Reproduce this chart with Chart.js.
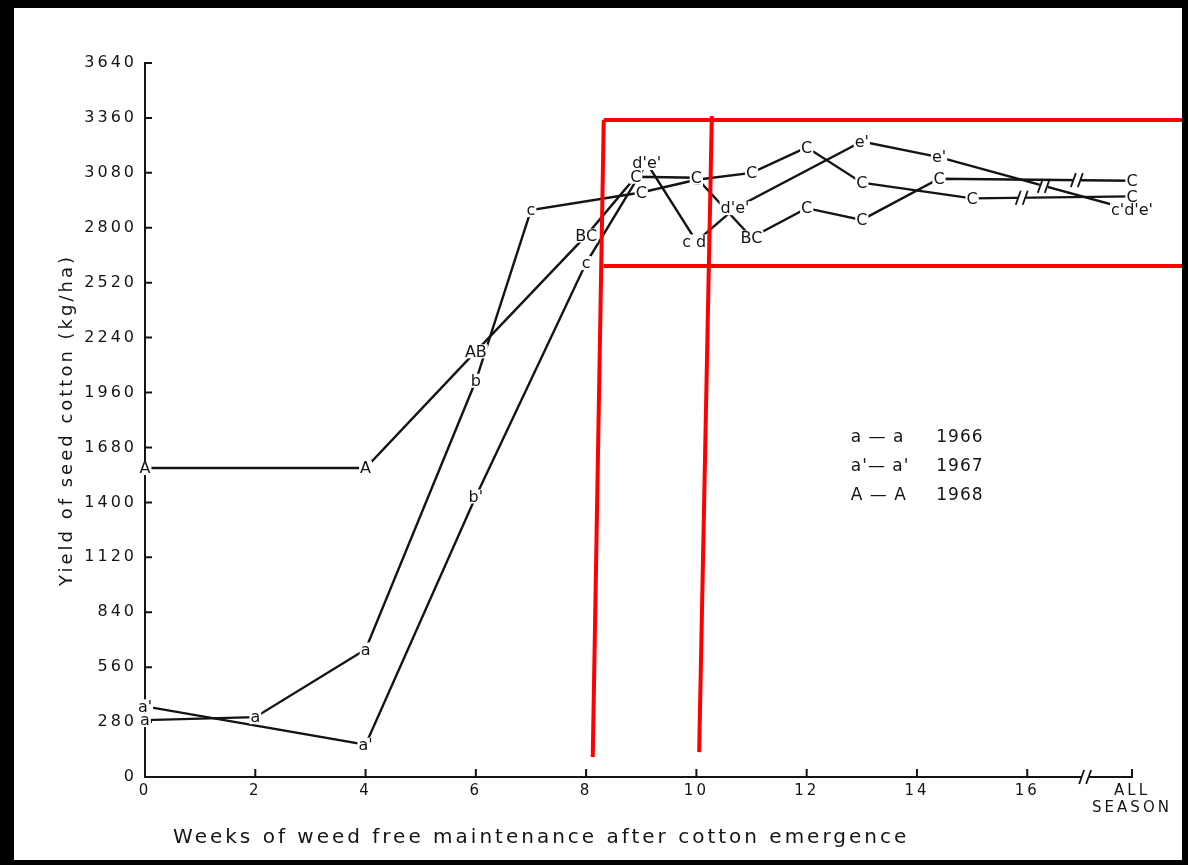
<!DOCTYPE html>
<html>
<head>
<meta charset="utf-8">
<script src="https://cdn.jsdelivr.net/npm/chart.js@4.4.1/dist/chart.umd.min.js"></script>
<style>
  html, body { margin: 0; padding: 0; background: #fff; }
  #wrap { width: 1188px; height: 865px; position: relative; }
</style>
</head>
<body>
<div id="wrap"><canvas id="chart"></canvas></div>
<script>
// "ALL SEASON" sits just past week 17, after the axis break
const ALL = 17.9;

const yTicks = [0, 280, 560, 840, 1120, 1400, 1680, 1960, 2240, 2520, 2800, 3080, 3360, 3640];
const xTickVals = [0, 2, 4, 6, 8, 10, 12, 14, 16, ALL];
const xTickText = ['0', '2', '4', '6', '8', '10', '12', '14', '16', ['ALL', 'SEASON']];

const weeks1966 = [0, 2, 4, 6, 7, 9, 10, 11, 12, 13, 15, ALL];
const yield1966 = [290, 305, 650, 2020, 2890, 2980, 3045, 3080, 3210, 3030, 2950, 2960];
const marks1966 = ['a', 'a', 'a', 'b', 'c', 'C', 'C', 'C', 'C', 'C', 'C', 'C'];

const weeks1967 = [0, 4, 6, 8, 9.1, 10, 10.7, 13, 14.4, ALL];
const yield1967 = [360, 165, 1430, 2620, 3130, 2730, 2900, 3240, 3160, 2890];
const marks1967 = ["a'", "a'", "b'", 'c', "d'e'", "c d'", "d'e'", "e'", "e'", "c'd'e'"];

const weeks1968 = [0, 4, 6, 8, 8.9, 10, 11, 12, 13, 14.4, ALL];
const yield1968 = [1575, 1575, 2170, 2760, 3060, 3055, 2750, 2900, 2840, 3050, 3040];
const marks1968 = ['A', 'A', 'AB', 'BC', 'C', 'C', 'BC', 'C', 'C', 'C', 'C'];

const legendKeys = ['a \u2014 a', "a'\u2014 a'", 'A \u2014 A'];

// where the little break marks cross each line (in weeks)
const lineBreaks = [15.9, 16.3, 16.9];
const axisBreak = 17.05;

// red hand-drawn overlay, in data units: [x1, y1, x2, y2]
const redLines = [[8.32, 3350, 8.12, 102], [10.28, 3370, 10.05, 127]];
const redBox = { x: 8.32, top: 3350, bottom: 2605 };

const INK = '#141414';

function series(label, xs, ys, marks) {
  return {
    label,
    data: xs.map((x, i) => ({ x, y: ys[i] })),
    marks,
    breakAt: lineBreaks[['1966', '1967', '1968'].indexOf(label)],
    borderColor: INK,
    borderWidth: 2.4,
    pointRadius: 0,
    tension: 0,
    fill: false
  };
}

const framePlugin = {
  id: 'frame',
  beforeDraw(chart) {
    const c = chart.ctx;
    c.save();
    c.fillStyle = '#000';
    c.fillRect(0, 0, chart.width, chart.height);
    c.fillStyle = '#fff';
    c.fillRect(14, 8, chart.width - 20, chart.height - 13);
    c.restore();
    c.letterSpacing = '3px';
  }
};

function yAt(meta, px) {
  const pts = meta.data;
  for (let i = 0; i < pts.length - 1; i++) {
    const a = pts[i], b = pts[i + 1];
    if (px >= a.x && px <= b.x) return a.y + (b.y - a.y) * (px - a.x) / (b.x - a.x);
  }
  return pts[pts.length - 1].y;
}

function drawBreak(c, x, y) {
  c.save();
  c.fillStyle = '#fff';
  c.fillRect(x - 4, y - 3, 8, 6);
  c.strokeStyle = INK;
  c.lineWidth = 1.8;
  c.beginPath();
  c.moveTo(x - 6, y + 7); c.lineTo(x - 1, y - 7);
  c.moveTo(x + 1, y + 7); c.lineTo(x + 6, y - 7);
  c.stroke();
  c.restore();
}

const marksPlugin = {
  id: 'marks',
  afterDatasetsDraw(chart) {
    const c = chart.ctx;
    const { left, bottom } = chart.chartArea;
    const xs = chart.scales.x, ys = chart.scales.y;

    c.save();
    c.letterSpacing = '0px';
    c.strokeStyle = INK;
    c.lineWidth = 2;
    // inward tick marks
    c.beginPath();
    yTicks.forEach(v => { const p = ys.getPixelForValue(v); c.moveTo(left, p); c.lineTo(left + 7, p); });
    xTickVals.forEach(v => { const p = xs.getPixelForValue(v); c.moveTo(p, bottom); c.lineTo(p, bottom - 8); });
    c.stroke();

    // breaks on the lines and on the axis
    chart.data.datasets.forEach((ds, di) => {
      const meta = chart.getDatasetMeta(di);
      const px = xs.getPixelForValue(ds.breakAt);
      drawBreak(c, px, yAt(meta, px));
    });
    drawBreak(c, xs.getPixelForValue(axisBreak), bottom);

    // letter labels at each point
    c.font = '16px "DejaVu Sans"';
    c.textAlign = 'center';
    c.textBaseline = 'middle';
    chart.data.datasets.forEach((ds, di) => {
      const meta = chart.getDatasetMeta(di);
      meta.data.forEach((pt, i) => {
        const t = ds.marks[i];
        const w = c.measureText(t).width;
        c.fillStyle = '#fff';
        c.fillRect(pt.x - w / 2 - 1, pt.y - 7, w + 2, 14);
        c.fillStyle = INK;
        c.fillText(t, pt.x, pt.y + 1);
      });
    });

    // legend block
    const lx = xs.getPixelForValue(12.8), yx = xs.getPixelForValue(14.35);
    const ly = ys.getPixelForValue(1730);
    c.font = '17px "DejaVu Sans"';
    c.textAlign = 'left';
    c.letterSpacing = '1px';
    chart.data.datasets.forEach((ds, i) => {
      c.fillText(legendKeys[i], lx, ly + i * 29);
      c.fillText(ds.label, yx, ly + i * 29);
    });
    c.restore();
  },
  afterDraw(chart) {
    const c = chart.ctx;
    const xs = chart.scales.x, ys = chart.scales.y;
    c.save();
    c.strokeStyle = '#ff0000';
    c.lineWidth = 4;
    c.beginPath();
    redLines.forEach(([x1, y1, x2, y2]) => {
      c.moveTo(xs.getPixelForValue(x1), ys.getPixelForValue(y1));
      c.lineTo(xs.getPixelForValue(x2), ys.getPixelForValue(y2));
    });
    const bx = xs.getPixelForValue(redBox.x);
    [redBox.top, redBox.bottom].forEach(v => {
      const p = ys.getPixelForValue(v);
      c.moveTo(bx, p);
      c.lineTo(chart.width - 6, p);
    });
    c.stroke();
    c.restore();
  }
};

new Chart(document.getElementById('chart'), {
  type: 'line',
  data: {
    datasets: [
      series('1966', weeks1966, yield1966, marks1966),
      series('1967', weeks1967, yield1967, marks1967),
      series('1968', weeks1968, yield1968, marks1968)
    ]
  },
  options: {
    responsive: true,
    maintainAspectRatio: false,
    animation: false,
    layout: { padding: { top: 63, right: 56, left: 0, bottom: 0 } },
    plugins: { legend: { display: false }, tooltip: { enabled: false } },
    scales: {
      x: {
        type: 'linear',
        min: 0,
        max: ALL,
        afterBuildTicks: s => { s.ticks = xTickVals.map(v => ({ value: v })); },
        afterFit: s => { s.height = 88; },
        grid: { display: false, drawTicks: false },
        border: { display: true, color: INK, width: 2 },
        ticks: {
          autoSkip: false,
          maxRotation: 0,
          padding: 6,
          color: INK,
          font: { family: 'DejaVu Sans', size: 15, lineHeight: 1.1 },
          callback: (v, i) => xTickText[i]
        },
        title: {
          display: true,
          align: 'start',
          text: '   Weeks of weed free maintenance after cotton emergence',
          color: INK,
          font: { family: 'DejaVu Sans', size: 20 },
          padding: { top: 0, bottom: 15 }
        }
      },
      y: {
        type: 'linear',
        min: 0,
        max: 3640,
        afterBuildTicks: s => { s.ticks = yTicks.map(v => ({ value: v })); },
        afterFit: s => { s.width = 145; },
        grid: { display: false, drawTicks: false },
        border: { display: true, color: INK, width: 2 },
        ticks: {
          padding: 8,
          color: INK,
          font: { family: 'DejaVu Sans', size: 16 },
          callback: v => String(v)
        },
        title: {
          display: true,
          text: 'Yield of seed cotton (kg/ha)',
          color: INK,
          font: { family: 'DejaVu Sans', size: 18 },
          padding: { top: 57, bottom: 0 }
        }
      }
    }
  },
  plugins: [framePlugin, marksPlugin]
});
</script>
</body>
</html>
